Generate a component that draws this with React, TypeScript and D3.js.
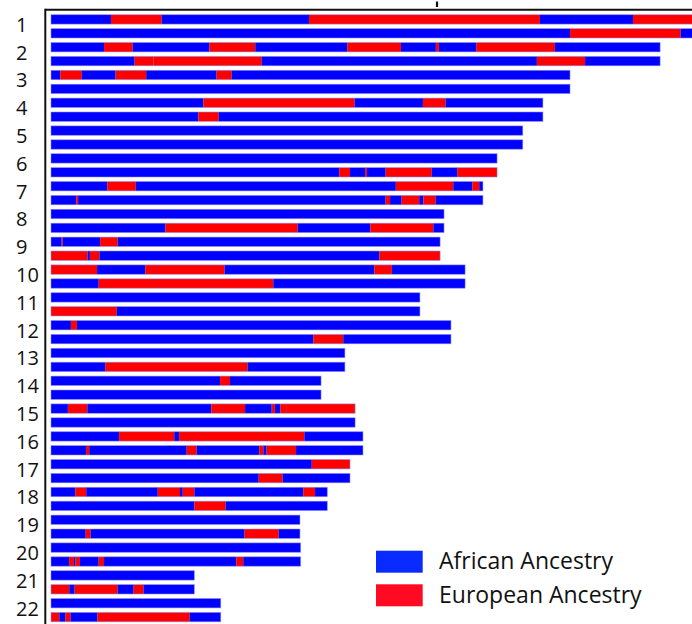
import * as d3 from 'd3'

// chromosome lengths in cM
const chromosomes = ['1', '2', '3', '4', '5', '6', '7', '8', '9', '10', '11', '12', '13', '14', '15', '16', '17', '18', '19', '20', '21', '22']
const chromLengths = [278.1, 263.0, 224.1, 212.4, 203.7, 192.6, 186.5, 169.7, 168.0, 178.8, 159.3, 172.7, 126.9, 116.6, 131.3, 134.7, 129.1, 119.3, 107.5, 107.8, 61.9, 73.3]

// each haplotype: list of [segment end (cM), ancestry] — A = African, E = European
type Seg = [number, 'A' | 'E']
const haplotypeA: Seg[][] = [
  [[25.9, 'A'], [47.8, 'E'], [111.4, 'A'], [211.1, 'E'], [251.3, 'A'], [278.1, 'E']],
  [[22.9, 'A'], [35.3, 'E'], [68.4, 'A'], [88.2, 'E'], [127.9, 'A'], [151.1, 'E'], [166.2, 'A'], [167.5, 'E'], [183.6, 'A'], [217.6, 'E'], [263.0, 'A']],
  [[4.0, 'A'], [13.3, 'E'], [27.9, 'A'], [41.1, 'E'], [71.5, 'A'], [78.0, 'E'], [224.1, 'A']],
  [[65.8, 'A'], [131.1, 'E'], [160.6, 'A'], [170.4, 'E'], [212.4, 'A']],
  [[203.7, 'A']],
  [[192.6, 'A']],
  [[24.3, 'A'], [36.6, 'E'], [148.9, 'A'], [173.7, 'E'], [181.9, 'A'], [184.9, 'E'], [186.5, 'A']],
  [[169.7, 'A']],
  [[4.6, 'A'], [5.1, 'E'], [21.2, 'A'], [28.8, 'E'], [168.0, 'A']],
  [[19.9, 'E'], [40.7, 'A'], [46.2, 'E'], [75.0, 'E'], [139.6, 'A'], [147.2, 'E'], [178.8, 'A']],
  [[159.3, 'A']],
  [[8.6, 'A'], [11.2, 'E'], [172.7, 'A']],
  [[126.9, 'A']],
  [[73.0, 'A'], [77.3, 'E'], [116.6, 'A']],
  [[7.3, 'A'], [15.7, 'E'], [69.2, 'A'], [83.8, 'E'], [95.3, 'A'], [96.7, 'E'], [99.0, 'A'], [101.5, 'E'], [131.3, 'E']],
  [[29.4, 'A'], [53.2, 'E'], [55.3, 'A'], [109.4, 'E'], [134.7, 'A']],
  [[112.6, 'A'], [129.1, 'E']],
  [[10.5, 'A'], [15.2, 'E'], [46.1, 'A'], [55.7, 'E'], [56.9, 'A'], [61.9, 'E'], [108.9, 'A'], [114.0, 'E'], [119.3, 'A']],
  [[107.5, 'A']],
  [[107.8, 'A']],
  [[61.9, 'A']],
  [[73.3, 'A']],
]
const haplotypeB: Seg[][] = [
  [[224.1, 'A'], [271.9, 'E'], [278.1, 'A']],
  [[36.1, 'A'], [44.3, 'E'], [91.0, 'E'], [209.8, 'A'], [230.6, 'E'], [263.0, 'A']],
  [[224.1, 'A']],
  [[63.6, 'A'], [72.4, 'E'], [212.4, 'A']],
  [[203.7, 'A']],
  [[124.5, 'A'], [129.1, 'E'], [135.6, 'A'], [136.4, 'E'], [144.5, 'A'], [164.4, 'E'], [175.4, 'A'], [192.6, 'E']],
  [[10.9, 'A'], [11.7, 'E'], [144.5, 'A'], [146.4, 'E'], [151.4, 'A'], [159.0, 'E'], [160.8, 'A'], [166.1, 'E'], [186.5, 'A']],
  [[49.4, 'A'], [106.5, 'E'], [137.9, 'A'], [165.1, 'E'], [169.7, 'A']],
  [[15.8, 'E'], [16.8, 'A'], [20.9, 'E'], [141.8, 'A'], [168.0, 'E']],
  [[20.6, 'A'], [96.0, 'E'], [178.8, 'A']],
  [[28.4, 'E'], [159.3, 'A']],
  [[113.3, 'A'], [126.2, 'E'], [172.7, 'A']],
  [[23.4, 'A'], [84.9, 'E'], [126.9, 'A']],
  [[116.6, 'A']],
  [[131.3, 'A']],
  [[15.1, 'A'], [16.5, 'E'], [58.6, 'A'], [62.9, 'E'], [89.9, 'A'], [91.7, 'E'], [93.1, 'A'], [105.8, 'E'], [134.7, 'A']],
  [[89.7, 'A'], [100.0, 'E'], [129.1, 'A']],
  [[61.9, 'A'], [75.4, 'E'], [119.3, 'A']],
  [[15.0, 'A'], [17.1, 'E'], [83.6, 'A'], [98.3, 'E'], [107.5, 'A']],
  [[7.8, 'A'], [9.9, 'E'], [10.6, 'A'], [12.5, 'E'], [20.6, 'A'], [22.9, 'E'], [80.0, 'A'], [83.0, 'E'], [107.8, 'A']],
  [[7.9, 'E'], [10.2, 'A'], [28.8, 'E'], [35.7, 'A'], [40.0, 'E'], [61.9, 'A']],
  [[3.6, 'E'], [6.2, 'A'], [8.5, 'E'], [20.0, 'A'], [59.9, 'E'], [73.3, 'A']],
]

const legendLabels = ['African Ancestry', 'European Ancestry']

const W = 692
const H = 624
const BLUE = '#0000ff'
const RED = '#ff0000'

export default function App() {
  const x = d3.scaleLinear().domain([0, 280]).range([51, 51 + 280 * 2.316])

  const rows = chromosomes.flatMap((c, i) => [
    { id: `${c}a`, chrom: i, segs: haplotypeA[i] },
    { id: `${c}b`, chrom: i, segs: haplotypeB[i] },
  ])
  const y = d3
    .scaleBand()
    .domain(rows.map((r) => r.id))
    .range([14.7, 621.8])
    .paddingInner(0.324)
    .paddingOuter(0)

  const color = d3.scaleOrdinal<string, string>().domain(['A', 'E']).range([BLUE, RED])

  return (
    <svg
      width={W}
      height={H}
      style={{ position: 'absolute', left: 0, top: 0, background: '#fff' }}
      fontFamily="'Open Sans', sans-serif"
    >
      {/* frame */}
      <line x1={45.3} x2={W} y1={9.7} y2={9.7} stroke="#111" strokeWidth={2} />
      <line x1={45.3} x2={45.3} y1={8.7} y2={H} stroke="#111" strokeWidth={2} />
      <line x1={437} x2={437} y1={1.5} y2={7} stroke="#111" strokeWidth={2.2} />

      {rows.map((r) => {
        let start = 0
        return (
          <g key={r.id}>
            {r.segs.map(([end, anc], k) => {
              const x0 = x(start)
              start = end
              return (
                <rect
                  key={k}
                  x={x0}
                  y={y(r.id)}
                  width={Math.max(0.6, x(end) - x0)}
                  height={y.bandwidth()}
                  fill={color(anc)}
                  stroke="#5a3aa0"
                  strokeOpacity={0.25}
                  strokeWidth={0.4}
                />
              )
            })}
            <rect
              x={x(0)}
              y={y(r.id)}
              width={x(chromLengths[r.chrom]) - x(0)}
              height={y.bandwidth()}
              fill="none"
              stroke="#9a9aff"
              strokeOpacity={0.6}
              strokeWidth={0.8}
            />
          </g>
        )
      })}

      {chromosomes.map((c, i) => {
        const yc = (y(`${c}a`)! + y(`${c}b`)! + y.bandwidth()) / 2
        return (
          <text key={c} x={16} y={yc + 5.5} fontSize={20} fill="#111">
            {c}
          </text>
        )
      })}

      {/* legend */}
      {legendLabels.map((l, i) => (
        <g key={l} transform={`translate(376,${550.7 + i * 33.6})`}>
          <rect width={46.7} height={22} fill={i === 0 ? '#0a2bff' : '#ff0a22'} />
          <text x={63} y={18.6} fontSize={23} fill="#111">
            {l}
          </text>
        </g>
      ))}
    </svg>
  )
}
